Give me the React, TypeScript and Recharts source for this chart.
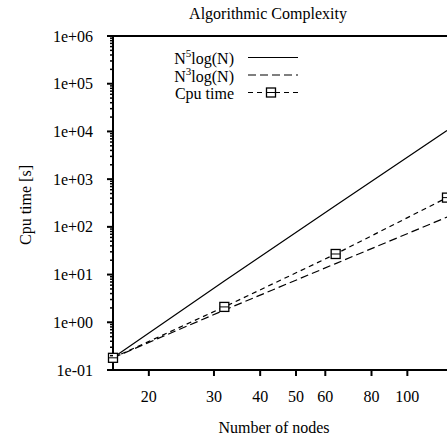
import { LineChart, Line, XAxis, YAxis, ReferenceLine, Legend, Label } from 'recharts';

const FONT = '"Liberation Serif", "DejaVu Serif", serif';

// nodes measured on the log x axis
const nodes = [16, 32, 64, 128];
const n5LogN = [0.18, 7.3, 280, 10500];
const n3LogN = [0.18, 1.8, 17, 160];
const cpuTime = [0.18, 2.1, 27, 410];

const xTicks = [20, 30, 40, 50, 60, 80, 100];
const yDecades = [0.1, 1, 10, 100, 1000, 10000, 100000, 1000000];
const yTickLabels = ['1e-01', '1e+00', '1e+01', '1e+02', '1e+03', '1e+04', '1e+05', '1e+06'];
const minorSteps = [2, 3, 4, 5, 6, 7, 8, 9];

const legendLabels = [
  { base: 'N', sup: '5', rest: 'log(N)' },
  { base: 'N', sup: '3', rest: 'log(N)' },
  { base: 'Cpu time', sup: '', rest: '' },
];

const data = nodes.map((n, i) => ({ n, n5: n5LogN[i], n3: n3LogN[i], cpu: cpuTime[i] }));

const yTicks = yDecades.flatMap((d, i) =>
  i < yDecades.length - 1 ? [d, ...minorSteps.map((m) => d * m)] : [d]
);

const YTick = (props: any) => {
  const { x, y, payload } = props;
  const idx = yDecades.indexOf(payload.value);
  if (idx < 0) {
    return <line x1={x - 3} x2={x} y1={y} y2={y} stroke="#000" strokeWidth={1.5} />;
  }
  return (
    <g>
      <line x1={x - 6} x2={x} y1={y} y2={y} stroke="#000" strokeWidth={2} />
      <text x={x - 20} y={y} dy="0.35em" textAnchor="end" fontSize={16} fontFamily={FONT} fill="#000">
        {yTickLabels[idx]}
      </text>
    </g>
  );
};

const XTick = (props: any) => {
  const { x, y, payload } = props;
  return (
    <g>
      <line x1={x} x2={x} y1={y} y2={y + 6} stroke="#000" strokeWidth={2} />
      <text x={x} y={y + 32} textAnchor="middle" fontSize={16} fontFamily={FONT} fill="#000">
        {payload.value}
      </text>
    </g>
  );
};

const SquareDot = (props: any) => {
  const { cx, cy } = props;
  if (cx == null || cy == null) return null;
  return (
    <g key={`sq-${cx}`}>
      <rect x={cx - 4.5} y={cy - 4.5} width={9} height={9} fill="#fff" stroke="#000" strokeWidth={1.3} />
      <line x1={cx - 4.5} x2={cx + 4.5} y1={cy} y2={cy} stroke="#000" strokeWidth={1} />
    </g>
  );
};

const dashes = [undefined, '8 4', '5 4'];

const LegendBox = () => (
  <svg width={447} height={110} style={{ display: 'block' }}>
    {legendLabels.map((lab, i) => {
      const base = 64 + i * 17.5;
      const ly = base - 6.5;
      return (
        <g key={i}>
          <text x={234} y={base} textAnchor="end" fontSize={16} fontFamily={FONT} fill="#000">
            {lab.base}
            {lab.sup && (
              <tspan dy={-7} fontSize={11}>
                {lab.sup}
              </tspan>
            )}
            {lab.rest && <tspan dy={lab.sup ? 7 : 0}>{lab.rest}</tspan>}
          </text>
          <line x1={248} x2={298} y1={ly} y2={ly} stroke="#000" strokeWidth={1.2} strokeDasharray={dashes[i]} />
          {i === 2 && <SquareDot cx={271} cy={ly} />}
        </g>
      );
    })}
  </svg>
);

export default function App() {
  return (
    <div
      style={{
        position: 'absolute',
        left: 0,
        top: 0,
        width: 447,
        height: 439,
        overflow: 'hidden',
        background: '#fff',
        fontFamily: FONT,
      }}
    >
      <div
        style={{
          position: 'absolute',
          left: 118,
          top: 5,
          width: 300,
          textAlign: 'center',
          fontSize: 16,
          lineHeight: '18px',
          color: '#000',
          zIndex: 2,
        }}
      >
        Algorithmic Complexity
      </div>
      <LineChart width={460} height={439} data={data} margin={{ top: 36, right: 13, left: 0, bottom: 0 }}>
        <XAxis
          dataKey="n"
          type="number"
          scale="log"
          domain={[16, 128]}
          ticks={xTicks}
          interval={0}
          tickSize={0}
          tickMargin={0}
          tickLine={false}
          tick={(p: any) => <XTick {...p} />}
          axisLine={{ stroke: '#000', strokeWidth: 2 }}
          height={69}
        >
          <Label
            content={() => (
              <text x={274} y={433} textAnchor="middle" fontSize={16} fontFamily={FONT} fill="#000">
                Number of nodes
              </text>
            )}
          />
        </XAxis>
        <YAxis
          type="number"
          scale="log"
          domain={[0.1, 1000000]}
          ticks={yTicks}
          interval={0}
          tickSize={0}
          tickMargin={0}
          tickLine={false}
          tick={(p: any) => <YTick {...p} />}
          axisLine={{ stroke: '#000', strokeWidth: 2 }}
          width={113}
        >
          <Label
            content={() => (
              <text
                transform="translate(25,205) rotate(-90)"
                textAnchor="middle"
                dy="0.35em"
                fontSize={16}
                fontFamily={FONT}
                fill="#000"
              >
                Cpu time [s]
              </text>
            )}
          />
        </YAxis>
        <ReferenceLine y={1000000} stroke="#000" strokeWidth={2} />
        <Legend
          verticalAlign="middle"
          align="center"
          layout="horizontal"
          wrapperStyle={{ left: 0, top: 0, width: 447, height: 110 }}
          content={() => <LegendBox />}
        />
        <Line
          dataKey="n5"
          name="N5log(N)"
          stroke="#000"
          strokeWidth={1.2}
          dot={false}
          activeDot={false}
          isAnimationActive={false}
        />
        <Line
          dataKey="n3"
          name="N3log(N)"
          stroke="#000"
          strokeWidth={1.2}
          strokeDasharray="8 4"
          dot={false}
          activeDot={false}
          isAnimationActive={false}
        />
        <Line
          dataKey="cpu"
          name="Cpu time"
          stroke="#000"
          strokeWidth={1.2}
          strokeDasharray="5 4"
          dot={(p: any) => <SquareDot key={`d-${p.index}`} {...p} />}
          activeDot={false}
          isAnimationActive={false}
        />
      </LineChart>
    </div>
  );
}
